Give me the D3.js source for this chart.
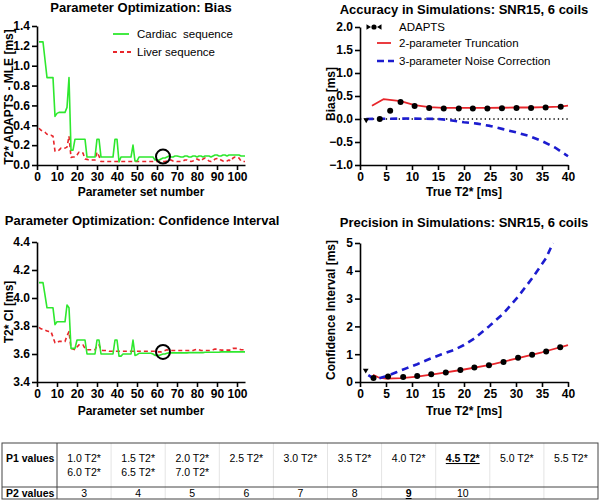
<!DOCTYPE html>
<html><head><meta charset="utf-8">
<script src="https://cdn.jsdelivr.net/npm/d3@7"></script>
<style>body{margin:0;background:#fff}</style>
</head><body>
<svg id="c" width="600" height="500"></svg>
<script>
// ---------- DATA ----------
const setTicks = [0,10,20,30,40,50,60,70,80,90,100];
const biasTicks = [0,0.2,0.4,0.6,0.8,1.0,1.2,1.4];
const ciTicks = [3.4,3.6,3.8,4.0,4.2,4.4];
const t2Ticks = [0,5,10,15,20,25,30,35,40];
const simBiasTicks = [-1.0,-0.5,0,0.5,1.0,1.5,2.0];
const simCiTicks = [0,1,2,3,4,5];

const biasCardiac = [1.24,1.24,1.24,1.06,0.88,0.88,0.88,0.88,0.49,0.52,
 0.53,0.53,0.53,0.53,0.58,0.88,0.15,0.15,0.26,0.26,
 0.26,0.26,0.26,0.26,0.08,0.08,0.08,0.08,0.08,0.26,
 0.26,0.08,0.08,0.08,0.08,0.08,0.08,0.08,0.26,0.26,
 0.03,0.08,0.08,0.08,0.08,0.08,0.08,0.20,0.04,0.04,
 0.08,0.08,0.08,0.08,0.08,0.08,0.08,0.08,0.05,0.05,
 0.05,0.06,0.07,0.07,0.08,0.09,0.08,0.08,0.09,0.09,
 0.085,0.08,0.08,0.09,0.09,0.08,0.08,0.09,0.09,0.08,
 0.09,0.09,0.08,0.09,0.09,0.09,0.08,0.09,0.10,0.10,
 0.09,0.09,0.10,0.10,0.09,0.10,0.10,0.10,0.10,0.10,
 0.10,0.09,0.09,0.09];
const biasLiver = [0.37,0.35,0.34,0.33,0.31,0.30,0.30,0.29,0.14,0.14,
 0.15,0.17,0.17,0.17,0.18,0.29,0.077,0.08,0.08,0.10,
 0.13,0.13,0.12,0.06,0.057,0.05,0.05,0.05,0.05,0.13,
 0.09,0.035,0.035,0.035,0.035,0.035,0.035,0.035,0.035,0.035,
 0.035,0.035,0.035,0.035,0.035,0.035,0.035,0.035,0.035,0.035,
 0.035,0.035,0.035,0.035,0.035,0.035,0.035,0.035,0.035,0.035,
 0.04,0.04,0.035,0.035,0.04,0.05,0.05,0.04,0.04,0.035,
 0.035,0.035,0.04,0.05,0.05,0.04,0.035,0.04,0.06,0.06,
 0.05,0.04,0.06,0.07,0.06,0.04,0.035,0.04,0.06,0.065,
 0.065,0.05,0.04,0.035,0.04,0.05,0.04,0.07,0.08,0.08,
 0.07,0.04,0.035,0.035];
const ciCardiac = [4.11,4.11,4.11,4.02,3.93,3.93,3.93,3.93,3.81,3.83,
 3.83,3.83,3.83,3.83,3.95,3.93,3.64,3.64,3.64,3.70,
 3.70,3.70,3.70,3.70,3.60,3.60,3.60,3.60,3.60,3.70,
 3.70,3.60,3.60,3.60,3.60,3.60,3.60,3.60,3.70,3.70,
 3.585,3.585,3.60,3.60,3.60,3.60,3.60,3.70,3.59,3.595,
 3.605,3.605,3.605,3.605,3.605,3.605,3.605,3.60,3.59,3.59,
 3.59,3.595,3.60,3.60,3.605,3.608,3.608,3.608,3.608,3.608,
 3.608,3.608,3.608,3.608,3.608,3.61,3.61,3.61,3.61,3.61,
 3.61,3.61,3.61,3.612,3.612,3.612,3.612,3.612,3.612,3.612,
 3.612,3.615,3.615,3.615,3.615,3.615,3.615,3.615,3.615,3.615,
 3.615,3.615,3.615,3.615];
const ciLiver = [3.79,3.78,3.775,3.77,3.765,3.76,3.76,3.72,3.68,3.68,
 3.69,3.69,3.69,3.69,3.73,3.76,3.64,3.635,3.63,3.65,
 3.665,3.665,3.665,3.64,3.63,3.63,3.63,3.63,3.63,3.66,
 3.665,3.63,3.625,3.625,3.625,3.62,3.62,3.62,3.62,3.62,
 3.62,3.62,3.62,3.62,3.62,3.62,3.62,3.62,3.62,3.62,
 3.62,3.62,3.62,3.62,3.62,3.62,3.62,3.62,3.62,3.615,
 3.615,3.615,3.62,3.625,3.63,3.625,3.625,3.625,3.625,3.625,
 3.625,3.625,3.625,3.625,3.625,3.625,3.625,3.625,3.63,3.635,
 3.63,3.625,3.625,3.625,3.625,3.625,3.625,3.63,3.635,3.635,
 3.63,3.628,3.628,3.628,3.628,3.628,3.628,3.64,3.64,3.64,
 3.635,3.63,3.63,3.63];
const chosenSet = 63;
const chosenBias = 0.085;
const chosenCi = 3.615;

// Simulation: bias
const adaptsBiasT2 = [1.2,3.8,5.8,7.8,10.5,13.3,16.1,19.0,21.7,24.5,27.3,30.1,32.9,35.7,38.6];
const adaptsBias   = [-0.02,0.0,0.18,0.37,0.28,0.24,0.23,0.23,0.23,0.23,0.235,0.24,0.24,0.25,0.265];
const truncBiasT2  = [2.3,4.5,7.8,10.5,13.3,16.1,19.0,21.7,24.5,27.3,30.1,32.9,35.7,38.6,40];
const truncBias    = [0.29,0.43,0.39,0.30,0.26,0.24,0.24,0.24,0.24,0.245,0.25,0.25,0.26,0.27,0.29];
const noiseBiasT2  = [1.2,5,10,15,17,20,22.5,25,27.5,30,32.5,35,37.5,40];
const noiseBias    = [0,0.005,0.01,0,-0.02,-0.07,-0.1,-0.15,-0.22,-0.29,-0.37,-0.48,-0.62,-0.81];

// Simulation: precision
const adaptsCiT2 = [1.1,2.6,5.4,8.3,11.0,13.7,16.5,19.3,22.0,24.8,27.6,30.4,33.1,35.8,38.5];
const adaptsCi   = [0.42,0.14,0.2,0.18,0.22,0.28,0.34,0.43,0.52,0.6,0.72,0.87,0.98,1.1,1.25];
const truncCiT2  = [2.5,3.5,5,8,11,15,20,25,30,35,40];
const truncCi    = [0.26,0.17,0.12,0.14,0.19,0.3,0.45,0.62,0.84,1.07,1.33];
const noiseCiT2  = [1.6,2.6,4,5.5,7,9,11,13,15.7,18,20,22,24.8,27.6,30.4,33.1,35.8,37.1];
const noiseCi    = [0.25,0.13,0.15,0.24,0.35,0.5,0.64,0.8,1.0,1.15,1.33,1.57,2.0,2.47,3.07,3.73,4.46,5.0];

// Table
const p1Row1 = ["1.0 T2*","1.5 T2*","2.0 T2*","2.5 T2*","3.0 T2*","3.5 T2*","4.0 T2*","4.5 T2*","5.0 T2*","5.5 T2*"];
const p1Row2 = ["6.0 T2*","6.5 T2*","7.0 T2*"];
const p2Row  = ["3","4","5","6","7","8","9","10"];
const p1Chosen = "4.5 T2*";
const p2Chosen = "9";

// ---------- DRAW ----------
const svg = d3.select("#c");
const FONT = "'Liberation Sans', Arial, Helvetica, sans-serif";
const TFONT = "'Liberation Sans Narrow', 'Arial Narrow', 'Liberation Sans', sans-serif";
const GREEN = "#2ee82e", RED = "#e8262b", BLUE = "#1c1ccf";

function styleAxis(g){
  g.selectAll("path.domain").attr("stroke","#000").attr("stroke-width",1.6);
  g.selectAll(".tick line").attr("stroke","#000").attr("stroke-width",1.6);
  g.selectAll(".tick text").attr("font-family",FONT).attr("font-weight","bold").attr("font-size",12).attr("fill","#000");
}
function axes(x,y,xt,yt,yfmt){
  const gx = svg.append("g").attr("transform",`translate(0,${y.range()[0]})`)
    .call(d3.axisBottom(x).tickValues(xt).tickSize(5).tickPadding(2).tickSizeOuter(0).tickFormat(d3.format("d")));
  styleAxis(gx);
  const gy = svg.append("g").attr("transform",`translate(${x.range()[0]},0)`)
    .call(d3.axisLeft(y).tickValues(yt).tickSize(5).tickPadding(2).tickSizeOuter(0).tickFormat(yfmt));
  styleAxis(gy);
}
function text(t,x,y,opts={}){
  const e = svg.append("text").attr("x",x).attr("y",y).text(t)
    .attr("font-family",FONT).attr("font-size",opts.size||12)
    .attr("font-weight",opts.weight||"bold").attr("text-anchor",opts.anchor||"middle").attr("fill","#000");
  if(opts.rot) e.attr("transform",`rotate(-90,${x},${y})`);
  return e;
}
function path(data,x,y,stroke,width,dash){
  const p = svg.append("path").datum(data)
    .attr("d",d3.line().x(d=>x(d[0])).y(d=>y(d[1])))
    .attr("fill","none").attr("stroke",stroke).attr("stroke-width",width)
    .attr("stroke-linejoin","round");
  if(dash) p.attr("stroke-dasharray",dash);
  return p;
}

// Panel 1: bias
const x1 = d3.scaleLinear().domain([0,104]).range([37,245]);
const y1 = d3.scaleLinear().domain([0,1.4]).range([165,26]);
path(biasLiver.map((v,i)=>[i+1,v]),x1,y1,RED,1.6,"4,3");
path(biasCardiac.map((v,i)=>[i+1,v]),x1,y1,GREEN,1.6);
axes(x1,y1,setTicks,biasTicks,d3.format(".1f"));
svg.append("circle").attr("cx",x1(chosenSet)).attr("cy",y1(chosenBias)).attr("r",7)
  .attr("fill","none").attr("stroke","#000").attr("stroke-width",2);
text("Parameter Optimization: Bias",141,12,{size:13});
text("Parameter set number",141,196);
text("T2* ADAPTS - MLE [ms]",13,97,{rot:true});
svg.append("line").attr("x1",113).attr("x2",129).attr("y1",34).attr("y2",34).attr("stroke",GREEN).attr("stroke-width",1.8);
svg.append("line").attr("x1",113).attr("x2",132).attr("y1",52).attr("y2",52).attr("stroke",RED).attr("stroke-width",1.8).attr("stroke-dasharray","4,3");
text("Cardiac  sequence",137,38,{size:11.5,weight:"normal",anchor:"start"}).style("white-space","pre");
text("Liver sequence",137,56,{size:11.5,weight:"normal",anchor:"start"});

// Panel 3: CI
const y3 = d3.scaleLinear().domain([3.4,4.4]).range([382,242]);
path(ciLiver.map((v,i)=>[i+1,v]),x1,y3,RED,1.6,"4,3");
path(ciCardiac.map((v,i)=>[i+1,v]),x1,y3,GREEN,1.6);
axes(x1,y3,setTicks,ciTicks,d3.format(".1f"));
svg.append("circle").attr("cx",x1(chosenSet)).attr("cy",y3(chosenCi)).attr("r",7)
  .attr("fill","none").attr("stroke","#000").attr("stroke-width",2);
text("Parameter Optimization: Confidence Interval",142,225,{size:13});
text("Parameter set number",141,415);
text("T2* CI [ms]",13,312,{rot:true});

// Panel 2: simulation bias
const x2 = d3.scaleLinear().domain([0,40]).range([360,568]);
const y2 = d3.scaleLinear().domain([-1,2]).range([165,27]);
path([[0,0],[40,0]],x2,y2,"#000",1.3,"1.3,3");
path(truncBiasT2.map((v,i)=>[v,truncBias[i]]),x2,y2,RED,1.8);
path(noiseBiasT2.map((v,i)=>[v,noiseBias[i]]),x2,y2,BLUE,2.6,"7,5");
const sym = d3.symbol().type(d3.symbolTriangle).size(14);
svg.append("g").selectAll("path").data(adaptsBiasT2.slice(0,1)).join("path")
  .attr("d",sym).attr("transform",(d,i)=>`translate(${x2(d)},${y2(adaptsBias[i])}) rotate(180)`).attr("fill","#000");
svg.append("g").selectAll("circle").data(adaptsBiasT2.slice(1)).join("circle")
  .attr("cx",d=>x2(d)).attr("cy",(d,i)=>y2(adaptsBias[i+1])).attr("r",3).attr("fill","#000");
axes(x2,y2,t2Ticks,simBiasTicks,d3.format(".1f"));
text("Accuracy in Simulations: SNR15, 6 coils",464,14,{size:13});
text("True T2* [ms]",464,196);
text("Bias [ms]",335,94,{rot:true});
// legend
svg.append("path").attr("d",d3.symbol().type(d3.symbolTriangle).size(12)).attr("transform","translate(368,27) rotate(90)").attr("fill","#000");
svg.append("circle").attr("cx",374).attr("cy",27).attr("r",2.6).attr("fill","#000");
svg.append("path").attr("d",d3.symbol().type(d3.symbolTriangle).size(12)).attr("transform","translate(380,27) rotate(-90)").attr("fill","#000");
svg.append("line").attr("x1",377).attr("x2",391).attr("y1",43).attr("y2",43).attr("stroke",RED).attr("stroke-width",1.8);
svg.append("line").attr("x1",377).attr("x2",394).attr("y1",61).attr("y2",61).attr("stroke",BLUE).attr("stroke-width",2.6).attr("stroke-dasharray","7,4");
text("ADAPTS",399,31,{size:11.5,weight:"normal",anchor:"start"});
text("2-parameter Truncation",399,47,{size:11.5,weight:"normal",anchor:"start"});
text("3-parameter Noise Correction",399,65,{size:11.5,weight:"normal",anchor:"start"});

// Panel 4: simulation precision
const y4 = d3.scaleLinear().domain([0,5]).range([382,243]);
path(truncCiT2.map((v,i)=>[v,truncCi[i]]),x2,y4,RED,1.8);
path(noiseCiT2.map((v,i)=>[v,noiseCi[i]]),x2,y4,BLUE,2.6,"7,5");
svg.append("g").selectAll("path").data(adaptsCiT2.slice(0,1)).join("path")
  .attr("d",sym).attr("transform",(d,i)=>`translate(${x2(d)},${y4(adaptsCi[i])}) rotate(180)`).attr("fill","#000");
svg.append("g").selectAll("circle").data(adaptsCiT2.slice(1)).join("circle")
  .attr("cx",d=>x2(d)).attr("cy",(d,i)=>y4(adaptsCi[i+1])).attr("r",3).attr("fill","#000");
axes(x2,y4,t2Ticks,simCiTicks,d3.format("d"));
text("Precision in Simulations: SNR15, 6 coils",464,227,{size:13});
text("True T2* [ms]",464,415);
text("Confidence Interval [ms]",335,310,{rot:true});

// Table
const tTop = 443, tMid = 487, tBot = 499, tLeft = 2, tRight = 598, hdrW = 57;
const col = d3.scaleBand().domain(d3.range(p1Row1.length)).range([hdrW,tRight]);
const tg = svg.append("g");
col.domain().forEach(i=>{ if(i>0) tg.append("line").attr("x1",col(i)).attr("x2",col(i)).attr("y1",tTop).attr("y2",tBot).attr("stroke","#e4e4e4").attr("stroke-width",1); });
tg.append("rect").attr("x",tLeft).attr("y",tTop).attr("width",tRight-tLeft).attr("height",tBot-tTop).attr("fill","none").attr("stroke","#444").attr("stroke-width",1);
tg.append("line").attr("x1",tLeft).attr("x2",tRight).attr("y1",tMid).attr("y2",tMid).attr("stroke","#444");
tg.append("line").attr("x1",hdrW).attr("x2",hdrW).attr("y1",tTop).attr("y2",tBot).attr("stroke","#444");
function cell(t,x,y,bold,anchor,font,size){
  return tg.append("text").attr("x",x).attr("y",y).text(t).attr("font-family",font||TFONT)
    .attr("font-size",size||10.5).attr("font-weight",bold?"bold":"normal").attr("text-anchor",anchor||"middle").attr("fill","#000");
}
cell("P1 values",6,462,true,"start",FONT,10.5);
cell("P2 values",6,497,true,"start",FONT,10.5);
p1Row1.forEach((t,i)=>{ const e=cell(t,col(i)+col.bandwidth()/2,462,t===p1Chosen); if(t===p1Chosen) e.attr("text-decoration","underline"); });
p1Row2.forEach((t,i)=>cell(t,col(i)+col.bandwidth()/2,476,false));
p2Row.forEach((t,i)=>{ const e=cell(t,col(i)+col.bandwidth()/2,497,t===p2Chosen); if(t===p2Chosen) e.attr("text-decoration","underline"); });
</script>
</body></html>
